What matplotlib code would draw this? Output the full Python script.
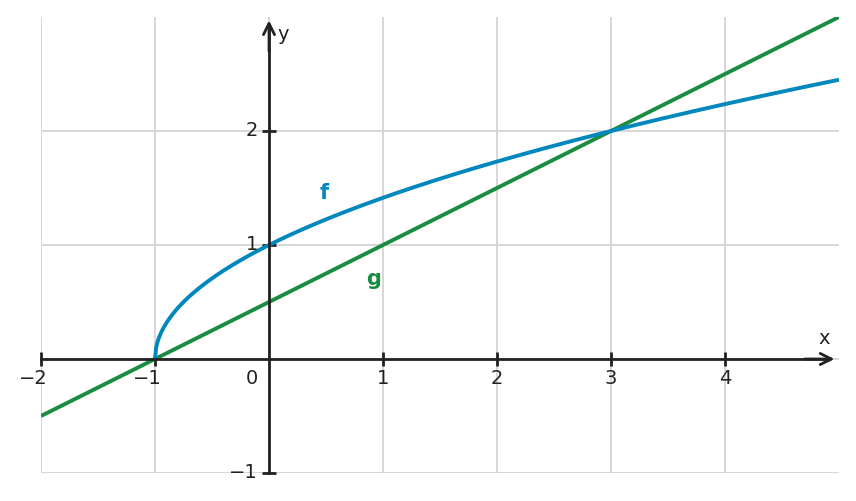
import matplotlib
matplotlib.use("Agg")
import matplotlib.pyplot as plt
import matplotlib.transforms as mtransforms
import numpy as np

# Functions shown: f(x) = sqrt(x + 1), g(x) = (x + 1) / 2
X_MIN, X_MAX = -2, 5
Y_MIN, Y_MAX = -1, 3
X_TICKS = [-2, -1, 1, 2, 3, 4]
Y_TICKS = [-1, 1, 2]
GRID_X = [-2, -1, 0, 1, 2, 3, 4]
GRID_Y = [-1, 0, 1, 2]

F_COLOR = "#0087BD"
G_COLOR = "#1A8C40"
AXIS_COLOR = "#222222"
GRID_COLOR = "#d4d4d4"

xf = np.linspace(-1, X_MAX, 600)
yf = np.sqrt(xf + 1)
xg = np.array([X_MIN, X_MAX])
yg = (xg + 1) / 2

fig = plt.figure(figsize=(8.56, 5.01), dpi=100)
ax = fig.add_axes([41 / 856, 28 / 501, 798 / 856, 456 / 501])
ax.set_xlim(X_MIN, X_MAX)
ax.set_ylim(Y_MIN, Y_MAX)

for gx in GRID_X:
    ax.axvline(gx, color=GRID_COLOR, lw=1.3, zorder=0)
for gy in GRID_Y:
    ax.axhline(gy, color=GRID_COLOR, lw=1.3, zorder=0)

ax.plot(xg, yg, color=G_COLOR, lw=2.8, zorder=3, solid_capstyle="butt")
ax.plot(xf, yf, color=F_COLOR, lw=2.8, zorder=3, solid_capstyle="butt")

# axes through the origin
for s in ["top", "right"]:
    ax.spines[s].set_visible(False)
ax.spines["bottom"].set_position(("data", 0))
ax.spines["left"].set_position(("data", 0))
ax.spines["bottom"].set_bounds(X_MIN, 4.9)
ax.spines["left"].set_bounds(Y_MIN, 2.93)
for s in ["bottom", "left"]:
    ax.spines[s].set_linewidth(2)
    ax.spines[s].set_color(AXIS_COLOR)
    ax.spines[s].set_zorder(4)

ax.annotate("", xy=(4.96, 0), xytext=(4.7, 0),
            arrowprops=dict(arrowstyle="->", color=AXIS_COLOR, lw=2,
                            mutation_scale=20, shrinkA=0, shrinkB=0), zorder=5)
ax.annotate("", xy=(0, 2.97), xytext=(0, 2.7),
            arrowprops=dict(arrowstyle="->", color=AXIS_COLOR, lw=2,
                            mutation_scale=20, shrinkA=0, shrinkB=0), zorder=5)

ax.set_xticks(X_TICKS)
ax.set_yticks(Y_TICKS)
ax.set_xticklabels([])
ax.set_yticklabels([])
ax.tick_params(direction="inout", length=10, width=2, color=AXIS_COLOR)

fs = 14
for t in X_TICKS:
    label = f"\u2212{abs(t)}" if t < 0 else str(t)
    off = -8 if t < 0 else 0
    tr = ax.transData + mtransforms.ScaledTranslation(off / 100, 0, fig.dpi_scale_trans)
    ax.text(t, -0.09, label, transform=tr, ha="center", va="top",
            fontsize=fs, color=AXIS_COLOR)
ax.text(-0.15, -0.09, "0", ha="center", va="top", fontsize=fs, color=AXIS_COLOR)
for t in Y_TICKS:
    label = f"\u2212{abs(t)}" if t < 0 else str(t)
    ax.text(-0.095, t, label, ha="right", va="center", fontsize=fs, color=AXIS_COLOR)

ax.text(4.87, 0.1, "x", ha="center", va="bottom", fontsize=fs, color=AXIS_COLOR)
ax.text(0.07, 2.85, "y", ha="left", va="center", fontsize=fs, color=AXIS_COLOR)

ax.text(0.48, 1.46, "f", ha="center", va="center", fontsize=15,
        fontweight="bold", color=F_COLOR)
ax.text(0.92, 0.7, "g", ha="center", va="center", fontsize=15,
        fontweight="bold", color=G_COLOR)

fig.savefig("out.png", dpi=100)
